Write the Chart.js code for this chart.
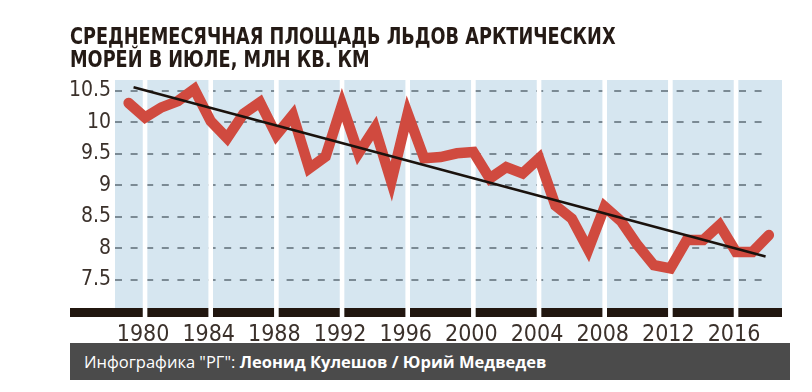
<!DOCTYPE html>
<html lang="ru">
<head>
<meta charset="UTF-8">
<title>Площадь льдов арктических морей</title>
<script src="https://cdn.jsdelivr.net/npm/chart.js"></script>
<style>
  body { margin: 0; background: #fff; }
  .wrap { position: relative; width: 812px; height: 392px; overflow: hidden; }
  .title {
    position: absolute; left: 70px; top: 25px;
    font: bold 23px/23px "Liberation Sans Narrow", "DejaVu Sans Condensed", sans-serif;
    color: #241a15;
    white-space: nowrap;
    transform: scaleX(0.855);
    transform-origin: 0 0;
  }
  .credit {
    position: absolute; left: 70px; top: 343px; width: 720px; height: 37px;
    background: #4b4b4b; color: #fff;
    font: 16.5px/37px "Open Sans", sans-serif;
    padding-left: 14px; box-sizing: border-box;
  }
  .credit b { font-weight: 700; }
  canvas { position: absolute; left: 0; top: 0; }
</style>
</head>
<body>
<div class="wrap">
  <canvas id="iceChart" width="812" height="392"></canvas>
  <div class="title">СРЕДНЕМЕСЯЧНАЯ ПЛОЩАДЬ ЛЬДОВ АРКТИЧЕСКИХ<br>МОРЕЙ В ИЮЛЕ, МЛН КВ. КМ</div>
  <div class="credit">Инфографика "РГ": <b>Леонид Кулешов / Юрий Медведев</b></div>
</div>

<script>
// July mean sea-ice area, million sq. km
const years = [1979, 1980, 1981, 1982, 1983, 1984, 1985, 1986, 1987, 1988,
               1989, 1990, 1991, 1992, 1993, 1994, 1995, 1996, 1997, 1998,
               1999, 2000, 2001, 2002, 2003, 2004, 2005, 2006, 2007, 2008,
               2009, 2010, 2011, 2012, 2013, 2014, 2015, 2016, 2017, 2018];
const iceArea = [10.31, 10.08, 10.24, 10.34, 10.53, 10.02, 9.75, 10.14, 10.32, 9.80,
                 10.12, 9.27, 9.46, 10.28, 9.51, 9.91, 9.06, 10.14, 9.43, 9.45,
                 9.51, 9.53, 9.11, 9.29, 9.19, 9.43, 8.68, 8.47, 7.98, 8.66,
                 8.43, 8.05, 7.73, 7.68, 8.13, 8.13, 8.37, 7.94, 7.94, 8.21];

// trend line ends
const trendYears = [1979.3, 2017.8];
const trendValues = [10.56, 7.87];

const yearTicks = [1980, 1984, 1988, 1992, 1996, 2000, 2004, 2008, 2012, 2016];
const valueTicks = [7.5, 8, 8.5, 9, 9.5, 10, 10.5];

const labelFont = '"Liberation Sans Narrow", "DejaVu Sans Condensed", sans-serif';

// blue panel, white column gaps, dashed grid and the black base strip
const backdrop = {
  id: 'backdrop',
  beforeDraw(chart) {
    const { ctx, chartArea: a, scales: { x, y } } = chart;
    ctx.save();
    ctx.fillStyle = '#d6e6f0';
    ctx.fillRect(a.left, a.top, a.right - a.left, a.bottom - a.top);
    ctx.fillStyle = '#21160f';
    ctx.fillRect(70, a.bottom, a.right - 70, 9);

    ctx.strokeStyle = '#7b8a94';
    ctx.lineWidth = 2;
    ctx.setLineDash([7, 8.6]);
    valueTicks.forEach(v => {
      const py = Math.round(y.getPixelForValue(v));
      ctx.beginPath();
      ctx.moveTo(a.left, py);
      ctx.lineTo(a.right - 20, py);
      ctx.stroke();
    });

    ctx.fillStyle = '#ffffff';
    yearTicks.forEach(t => {
      const px = x.getPixelForValue(t);
      ctx.fillRect(px - 2.3, a.top, 4.6, a.bottom + 9 - a.top);
    });
    ctx.restore();
  }
};

new Chart(document.getElementById('iceChart'), {
  type: 'line',
  data: {
    datasets: [
      {
        label: 'Площадь льдов',
        data: years.map((yr, i) => ({ x: yr, y: iceArea[i] })),
        borderColor: '#d04a3f',
        borderWidth: 10.5,
        borderCapStyle: 'round',
        pointRadius: 0,
        tension: 0,
        order: 2
      },
      {
        label: 'Тренд',
        data: trendYears.map((yr, i) => ({ x: yr, y: trendValues[i] })),
        borderColor: '#1a120d',
        borderWidth: 2.5,
        pointRadius: 0,
        order: 1
      }
    ]
  },
  options: {
    responsive: false,
    animation: false,
    clip: false,
    layout: { padding: { top: 80, right: 30, left: 0, bottom: 0 } },
    plugins: { legend: { display: false }, tooltip: { enabled: false } },
    scales: {
      x: {
        type: 'linear',
        min: 1978.17,
        max: 2018.8,
        afterBuildTicks: s => { s.ticks = yearTicks.map(v => ({ value: v })); },
        afterFit: s => { s.height = 84; },
        grid: { display: false, drawTicks: false },
        border: { display: false },
        ticks: {
          padding: 13,
          labelOffset: -2,
          color: '#3b312b',
          font: { family: labelFont, size: 23 },
          maxRotation: 0,
          callback: v => String(v)
        }
      },
      y: {
        min: 7.05,
        max: 10.675,
        afterBuildTicks: s => { s.ticks = valueTicks.map(v => ({ value: v })); },
        afterFit: s => { s.width = 115; },
        grid: { display: false, drawTicks: false },
        border: { display: false },
        ticks: {
          padding: 4,
          color: '#3b312b',
          font: { family: labelFont, size: 21 },
          callback: v => String(v)
        }
      }
    }
  },
  plugins: [backdrop]
});
</script>
</body>
</html>
